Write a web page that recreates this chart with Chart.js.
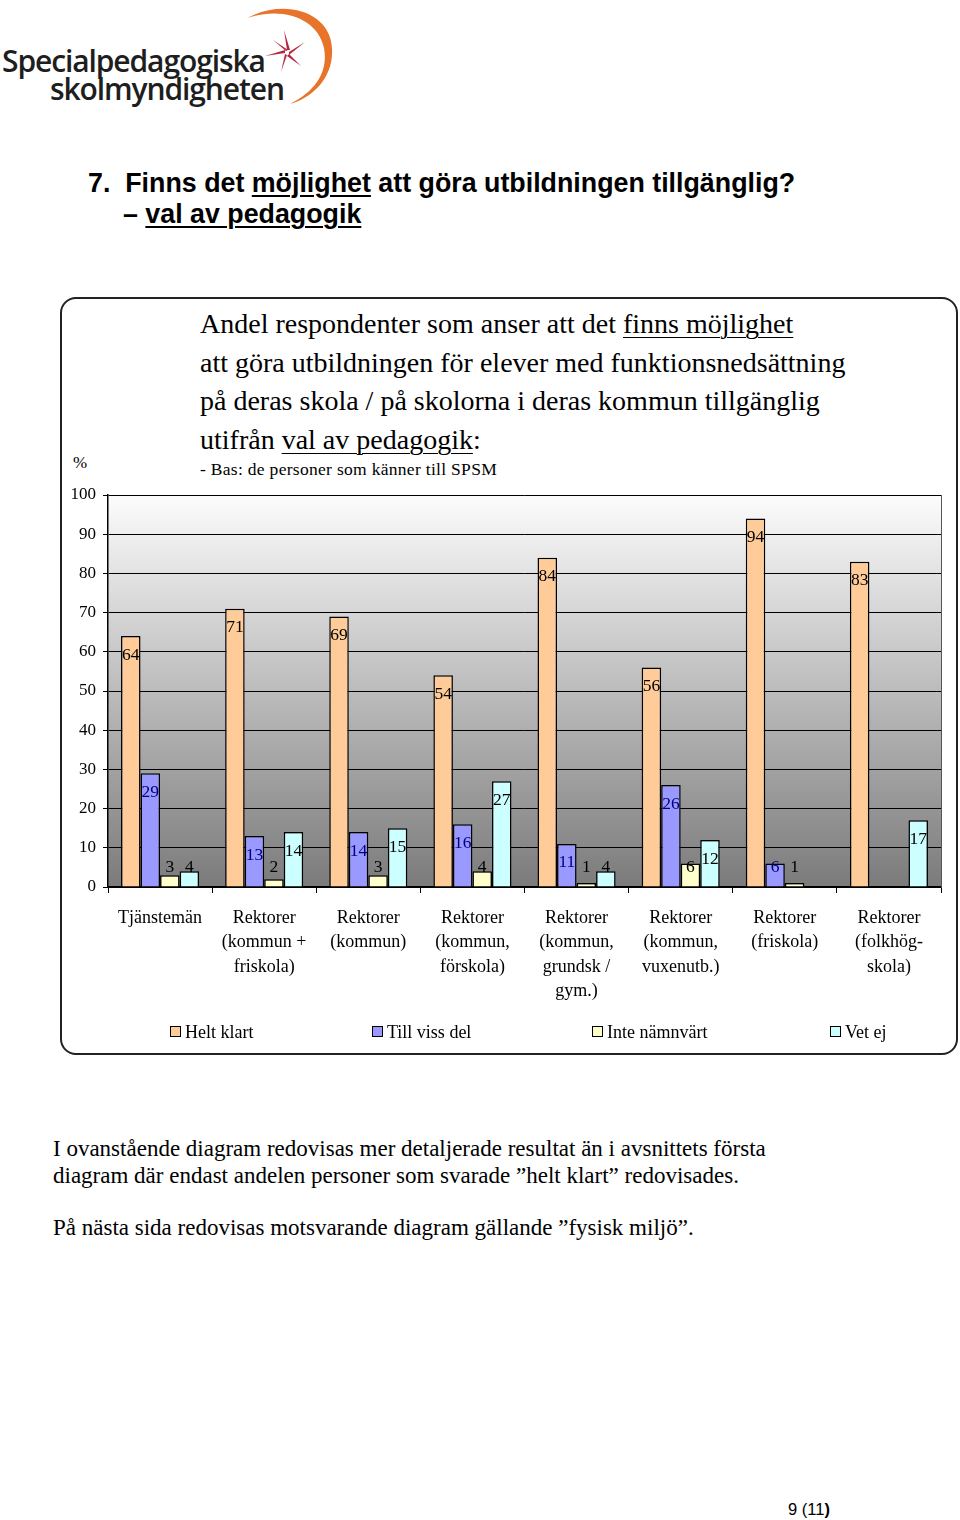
<!DOCTYPE html>
<html lang="sv">
<head>
<meta charset="utf-8">
<script src="https://cdn.jsdelivr.net/npm/chart.js@4.4.1/dist/chart.umd.min.js"></script>
<style>
  html, body { margin: 0; padding: 0; background: #fff; }
  #page { position: relative; width: 960px; height: 1520px; overflow: hidden; }
  .abs { position: absolute; white-space: nowrap; }
  #logo1, #logo2 { font-family: "Open Sans", "Noto Sans", sans-serif; font-weight: 600; color: #1e1e1e; font-size: 30px; letter-spacing: -1.1px; }
  #head { font-family: "Liberation Sans", Arial, sans-serif; font-weight: bold; font-size: 26.8px; color: #000; line-height: 31px; }
  #head u { text-decoration-thickness: 2px; text-underline-offset: 3px; }
  #box { left: 60px; top: 297px; width: 894px; height: 754px; border: 2px solid #222; border-radius: 16px; }
  #ctitle { font-family: "Liberation Serif", "Times New Roman", serif; font-size: 28px; line-height: 38.5px; color: #000; }
  #ctitle u { text-decoration-thickness: 1px; text-underline-offset: 4px; }
  #sub { font-family: "Liberation Serif", serif; font-size: 17.5px; color: #000; letter-spacing: 0.3px; }
  #pct { font-family: "Liberation Serif", serif; font-size: 17px; }
  .legend { font-family: "Liberation Serif", serif; font-size: 18px; color: #000; }
  .legend i { display: inline-block; width: 9px; height: 9px; border: 1px solid #000; margin-right: 4px; vertical-align: 1px; }
  .body { font-family: "Liberation Serif", "Times New Roman", serif; font-size: 23px; color: #000; }
  #pagenr { font-family: "Liberation Sans", Arial, sans-serif; font-size: 16.5px; }
  canvas { position: absolute; left: 60px; top: 297px; }
</style>
</head>
<body>
<div id="page">
  <!-- logga -->
  <svg class="abs" style="left:0;top:0" width="340" height="110">
    <path d="M247,18 C285,-2 330,12 332,48 C334,78 312,98 290,104 C318,90 328,70 324,48 C318,18 282,6 247,18 Z" fill="#e8732a"/>
    <g transform="translate(287,52)" fill="#b5273f">
      <path d="M0,-2 L-3,-22 L3,-2 Z"/>
      <path d="M2,0 L18,-10 L2,3 Z"/>
      <path d="M2,2 L14,14 L0,4 Z"/>
      <path d="M0,3 L-6,20 L-2,2 Z"/>
      <path d="M-2,1 L-22,4 L-2,-2 Z"/>
      <path d="M-1,-1 L-14,-12 L1,-2 Z"/>
    </g>
  </svg>
  <div id="logo1" class="abs" style="left:2px;top:40px">Specialpedagogiska</div>
  <div id="logo2" class="abs" style="left:50px;top:68px">skolmyndigheten</div>

  <div id="head" class="abs" style="left:88px;top:168px">7.&nbsp; Finns det <u>möjlighet</u> att göra utbildningen tillgänglig?<br><span style="padding-left:35px">– <u>val av pedagogik</u></span></div>

  <div id="box" class="abs"></div>
  <div id="ctitle" class="abs" style="left:200px;top:305px">Andel respondenter som anser att det <u>finns möjlighet</u><br>att göra utbildningen för elever med funktionsnedsättning<br>på deras skola / på skolorna i deras kommun tillgänglig<br>utifrån <u>val av pedagogik</u>:</div>
  <div id="sub" class="abs" style="left:200px;top:459px">- Bas: de personer som känner till SPSM</div>
  <div id="pct" class="abs" style="left:73px;top:453px">%</div>

  <canvas id="c" width="897" height="758"></canvas>
  <div id="legend"></div>

  <div class="abs body" style="left:53px;top:1135px;line-height:27px">I ovanstående diagram redovisas mer detaljerade resultat än i avsnittets första<br>diagram där endast andelen personer som svarade ”helt klart” redovisades.</div>
  <div class="abs body" style="left:53px;top:1215px">På nästa sida redovisas motsvarande diagram gällande ”fysisk miljö”.</div>
  <div id="pagenr" class="abs" style="left:788px;top:1500px">9 (11<b>)</b></div>
</div>

<script>
// kategorier (x-axel), flera rader per etikett
const categories = [
  ['Tjänstemän'],
  ['Rektorer', '(kommun +', 'friskola)'],
  ['Rektorer', '(kommun)'],
  ['Rektorer', '(kommun,', 'förskola)'],
  ['Rektorer', '(kommun,', 'grundsk /', 'gym.)'],
  ['Rektorer', '(kommun,', 'vuxenutb.)'],
  ['Rektorer', '(friskola)'],
  ['Rektorer', '(folkhög-', 'skola)'],
];
const seriesNames = ['Helt klart', 'Till viss del', 'Inte nämnvärt', 'Vet ej'];
const heltKlart    = [64, 71, 69, 54, 84, 56, 94, 83];
const tillVissDel  = [29, 13, 14, 16, 11, 26, 6, null];
const inteNamnvart = [3, 2, 3, 4, 1, 6, 1, null];
const vetEj        = [4, 14, 15, 27, 4, 12, null, 17];
const yTicks = [0, 10, 20, 30, 40, 50, 60, 70, 80, 90, 100];

const fills = ['#ffcc99', '#9999ff', '#ffffcc', '#ccffff'];
const labelColors = ['#000', '#000080', '#000', '#000'];
const SERIF = '"Liberation Serif", "Times New Roman", serif';

// legend (html)
const legendPos = [170, 372, 592, 830];
const lg = document.getElementById('legend');
seriesNames.forEach((n, i) => {
  const d = document.createElement('div');
  d.className = 'abs legend';
  d.style.left = legendPos[i] + 'px';
  d.style.top = '1022px';
  d.innerHTML = '<i style="background:' + fills[i] + '"></i>' + n;
  lg.appendChild(d);
});

/* bakgrund: grå gradient + ram i ritytan */
const plotBg = {
  id: 'plotBg',
  beforeDraw(chart) {
    const { ctx, chartArea: a } = chart;
    const g = ctx.createLinearGradient(0, a.top, 0, a.bottom);
    g.addColorStop(0, '#fcfcfc');
    g.addColorStop(1, '#7b7b7b');
    ctx.save();
    ctx.fillStyle = g;
    ctx.fillRect(a.left, a.top, a.right - a.left, a.bottom - a.top);
    ctx.restore();
  },
  afterDraw(chart) {
    const { ctx, chartArea: a } = chart;
    ctx.save();
    ctx.strokeStyle = '#555';
    ctx.lineWidth = 1;
    ctx.beginPath();
    ctx.moveTo(a.right + 0.5, a.top);
    ctx.lineTo(a.right + 0.5, a.bottom);
    ctx.stroke();
    ctx.restore();
  },
};

/* värdeetiketter: strax under toppen, men aldrig under ~5 % */
const valueLabels = {
  id: 'valueLabels',
  afterDatasetsDraw(chart) {
    const { ctx } = chart;
    const y0 = chart.scales.y.getPixelForValue(0);
    ctx.save();
    ctx.font = '17.5px ' + SERIF;
    ctx.textAlign = 'center';
    ctx.textBaseline = 'middle';
    chart.data.datasets.forEach((ds, di) => {
      chart.getDatasetMeta(di).data.forEach((el, i) => {
        const v = ds.data[i];
        if (v == null) return;
        ctx.fillStyle = labelColors[di];
        const y = Math.min(el.y + 19, y0 - 20);
        ctx.fillText(String(v), el.x, y);
      });
    });
    ctx.restore();
  },
};

const datasets = [heltKlart, tillVissDel, inteNamnvart, vetEj].map((data, i) => ({
  label: seriesNames[i],
  data,
  backgroundColor: fills[i],
  borderColor: '#000',
  borderWidth: 1.5,
  borderSkipped: 'bottom',
  categoryPercentage: 0.75,
  barPercentage: 1,
}));

new Chart(document.getElementById('c'), {
  type: 'bar',
  data: { labels: categories, datasets },
  options: {
    responsive: false,
    animation: false,
    layout: { padding: { left: 0, right: 16, top: 198, bottom: 0 } },
    plugins: { legend: { display: false }, tooltip: { enabled: false } },
    scales: {
      x: {
        offset: true,
        grid: { display: true, drawOnChartArea: false, drawTicks: true, tickLength: 6, offset: true, color: '#000' },
        border: { display: true, color: '#000', width: 1.5 },
        ticks: { color: '#000', padding: 13, maxRotation: 0, autoSkip: false,
                  font: { family: SERIF, size: 18, lineHeight: 1.36 } },
        afterFit(s) { s.height = 168; },
      },
      y: {
        min: 0, max: 100,
        afterBuildTicks(s) { s.ticks = yTicks.map((v) => ({ value: v })); },
        grid: { color: '#000', lineWidth: 1, tickLength: 5, drawTicks: true },
        border: { display: true, color: '#000', width: 1.5 },
        ticks: { color: '#000', padding: 7, font: { family: SERIF, size: 17 } },
        afterFit(s) { s.width = 48; },
      },
    },
  },
  plugins: [plotBg, valueLabels],
});
</script>
</body>
</html>
